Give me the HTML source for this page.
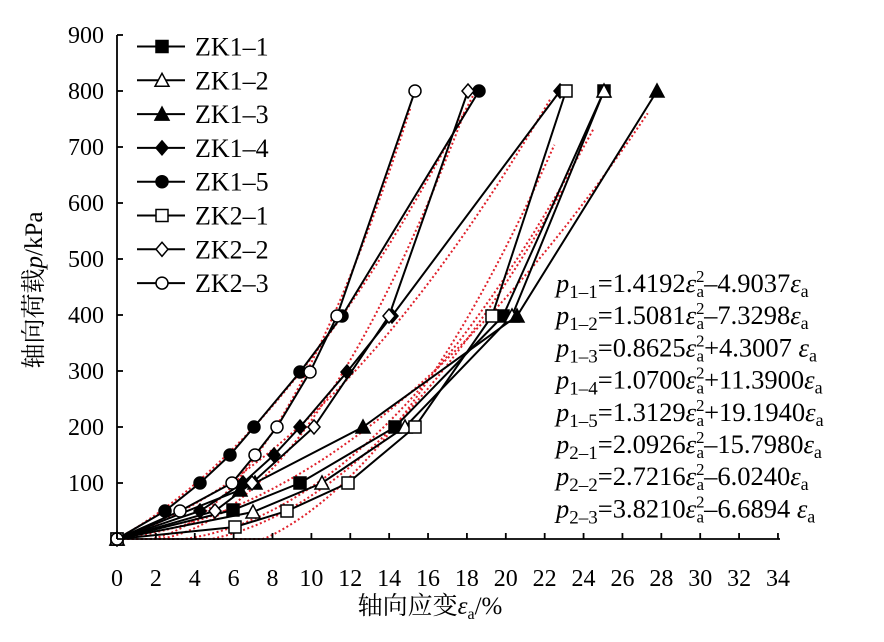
<!DOCTYPE html>
<html><head><meta charset="utf-8"><style>
body{margin:0;background:#fff}
svg{display:block;font-family:"Liberation Serif","Noto Serif CJK SC",serif}
</style></head><body>
<svg id="s" width="884" height="642" viewBox="0 0 884 642" xmlns="http://www.w3.org/2000/svg">
<g id="fits" fill="none" stroke="#e0202a" stroke-width="2" stroke-dasharray="2,2.5"></g>
<g id="ser" fill="none" stroke="#000" stroke-width="2"></g>
<g id="axes" stroke="#000" stroke-width="1.8" fill="none"></g>
<g id="lab" font-size="24" fill="#000"></g>
<g id="leg"></g>
<g font-size="26.5" fill="#000" id="eq"></g>
<text x="430" y="614" font-size="25" text-anchor="middle">轴向应变<tspan font-style="italic">ε</tspan><tspan font-size="16" dy="5">a</tspan><tspan dy="-5">/%</tspan></text>
<text transform="translate(42,290) rotate(-90)" font-size="25" text-anchor="middle">轴向荷载<tspan font-style="italic">p</tspan>/kPa</text>
</svg>
<script>
const NS="http://www.w3.org/2000/svg";
function X(v){return 117+v*19.44} function Y(p){return 539-p*0.56}
function el(t,a,par){const e=document.createElementNS(NS,t);for(const k in a)e.setAttribute(k,a[k]);document.getElementById(par).appendChild(e);return e}
el('line',{x1:117,y1:35,x2:117,y2:539},'axes');el('line',{x1:117,y1:539,x2:780,y2:539},'axes');
for(let p=100;p<=900;p+=100){el('line',{x1:117,y1:Y(p),x2:123,y2:Y(p)},'axes');const t=el('text',{x:104,y:Y(p)+8,'text-anchor':'end'},'lab');t.textContent=p;}
for(let v=0;v<=34;v+=2){el('line',{x1:X(v),y1:539,x2:X(v),y2:533},'axes');const t=el('text',{x:X(v),y:586,'text-anchor':'middle'},'lab');t.textContent=v;}
const fits=[[1.4192,-4.9037,24.6],[1.5081,-7.3298,23],[0.8625,4.3007,27.3],[1.07,11.39,22.4],[1.3129,19.194,18.3],[2.0926,-15.798,22.6],[2.7216,-6.024,17.9],[3.821,-6.6894,15.1]];
fits.forEach(f=>{let d='';for(let e=0.3;e<=f[2];e+=0.2){let p=f[0]*e*e+f[1]*e;if(p<0)p=0;d+=(d?'L':'M')+X(e).toFixed(1)+','+Y(p).toFixed(1)}el('path',{d:d},'fits')});
const S=[
['sqF',[[117,539],[233,510],[300,483],[395,427],[503,316],[604,91]]],
['triO',[[117,539],[253,512],[322,483],[405,427],[512,316],[604,91]]],
['triF',[[117,539],[240,490],[255,483],[363,427],[517,316],[657,91]]],
['diaF',[[117,539],[200,511],[243,483],[274,455],[300,427],[347,372],[392,316],[560,91]]],
['cirF',[[117,539],[165,511],[200,483],[230,455],[254,427],[300,372],[342,316],[479,91]]],
['sqO',[[117,539],[235,527],[287,511],[348,483],[415,427],[492,316],[566,91]]],
['diaO',[[117,539],[215,511],[252,483],[314,427],[389,316],[468,91]]],
['cirO',[[117,539],[180,511],[232,483],[255,455],[277,427],[310,372],[337,316],[415,91]]]];
function mk(type,x,y,par){const fill=type.endsWith('F')?'#000':'#fff';const a={fill:fill,stroke:'#000','stroke-width':1.5};
 if(type.startsWith('sq'))el('rect',Object.assign({x:x-6,y:y-6,width:12,height:12},a),par);
 else if(type.startsWith('tri'))el('polygon',Object.assign({points:`${x},${y-7} ${x-7},${y+6} ${x+7},${y+6}`},a),par);
 else if(type.startsWith('dia'))el('polygon',Object.assign({points:`${x},${y-7} ${x+6},${y} ${x},${y+7} ${x-6},${y}`},a),par);
 else el('circle',Object.assign({cx:x,cy:y,r:6},a),par);}
S.forEach(s=>{el('polyline',{points:s[1].map(p=>p.join(',')).join(' ')},'ser');s[1].forEach(p=>mk(s[0],p[0],p[1],'ser'))});
const names=['ZK1–1','ZK1–2','ZK1–3','ZK1–4','ZK1–5','ZK2–1','ZK2–2','ZK2–3'];
names.forEach((n,i)=>{const y=46.5+i*33.8;el('line',{x1:137,y1:y,x2:185,y2:y,stroke:'#000','stroke-width':2},'leg');mk(S[i][0],162,y,'leg');const t=el('text',{x:195,y:y+9,'font-size':26},'leg');t.textContent=n;});
const eq=[['1–1','1.4192','–4.9037'],['1–2','1.5081','–7.3298'],['1–3','0.8625','+4.3007 '],['1–4','1.0700','+11.3900'],['1–5','1.3129','+19.1940'],['2–1','2.0926','–15.7980'],['2–2','2.7216','–6.0240'],['2–3','3.8210','–6.6894 ']];
const g=document.getElementById('eq');
eq.forEach((q,i)=>{const y=292+i*32.2;g.insertAdjacentHTML('beforeend',`<text x="556" y="${y}"><tspan font-style="italic">p</tspan><tspan font-size="19" dy="6">${q[0]}</tspan><tspan dy="-6">=${q[1]}</tspan><tspan font-style="italic">ε</tspan><tspan font-size="17" dy="-10">2</tspan><tspan font-size="17" dx="-8" dy="15">a</tspan><tspan dy="-5">${q[2]}</tspan><tspan font-style="italic">ε</tspan><tspan font-size="18" dy="5">a</tspan></text>`)});
</script>
</body></html>
